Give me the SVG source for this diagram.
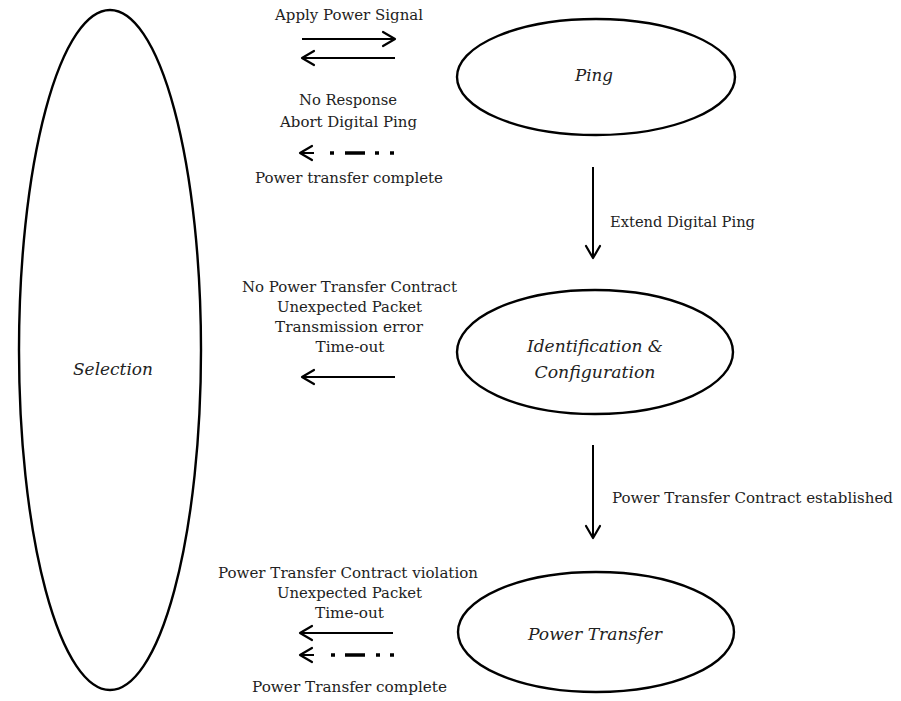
<svg xmlns="http://www.w3.org/2000/svg" width="901" height="701" viewBox="0 0 901 701">
<style>
.st{fill:none;stroke:#000;stroke-width:2.4}
.ln{fill:none;stroke:#000;stroke-width:2}
.hd{fill:none;stroke:#000;stroke-width:2.2;stroke-linecap:round;stroke-linejoin:round}
.dd{fill:none;stroke:#000;stroke-width:3.5}
.lb{font-family:"DejaVu Serif","Liberation Serif",serif;font-size:14px;fill:#222;text-anchor:middle}
.ls{font-family:"DejaVu Serif","Liberation Serif",serif;font-size:14px;fill:#222;text-anchor:start}
.nm{font-family:"DejaVu Serif","Liberation Serif",serif;font-size:16px;font-style:italic;fill:#222;text-anchor:middle}
</style>
<rect width="901" height="701" fill="#fff"/>
<g id="selection">
<ellipse class="st" cx="110" cy="350" rx="91" ry="340"/>
<text class="nm" x="113" y="375" textLength="80" lengthAdjust="spacingAndGlyphs">Selection</text>
</g>
<g id="ping">
<ellipse class="st" cx="596" cy="77" rx="139" ry="58"/>
<text class="nm" x="594" y="81" textLength="38" lengthAdjust="spacingAndGlyphs">Ping</text>
</g>
<g id="identification">
<ellipse class="st" cx="595" cy="352" rx="138" ry="62"/>
<text class="nm" x="595" y="352" textLength="136" lengthAdjust="spacingAndGlyphs">Identification &amp;</text>
<text class="nm" x="595" y="378" textLength="121" lengthAdjust="spacingAndGlyphs">Configuration</text>
</g>
<g id="power-transfer">
<ellipse class="st" cx="596" cy="632" rx="138" ry="60"/>
<text class="nm" x="595" y="640" textLength="134" lengthAdjust="spacingAndGlyphs">Power Transfer</text>
</g>
<g id="connectors">
<line class="ln" x1="302" y1="39" x2="394" y2="39"/>
<polyline class="hd" points="383,32 395,39 383,46"/>
<line class="ln" x1="303" y1="58" x2="395" y2="58"/>
<polyline class="hd" points="314,51 302,58 314,65"/>
<polyline class="hd" points="312,146 300,153 312,160"/>
<line class="ln" x1="301" y1="153" x2="314" y2="153"/>
<line class="dd" x1="330" y1="153" x2="334" y2="153"/>
<line class="dd" x1="345" y1="153" x2="365" y2="153"/>
<line class="dd" x1="375" y1="153" x2="379" y2="153"/>
<line class="dd" x1="390" y1="153" x2="394" y2="153"/>
<line class="ln" x1="593" y1="167" x2="593" y2="257"/>
<polyline class="hd" points="586,246 593,258 600,246"/>
<line class="ln" x1="303" y1="377" x2="395" y2="377"/>
<polyline class="hd" points="314,370 302,377 314,384"/>
<line class="ln" x1="593" y1="445" x2="593" y2="537"/>
<polyline class="hd" points="586,526 593,538 600,526"/>
<line class="ln" x1="301" y1="633" x2="393" y2="633"/>
<polyline class="hd" points="312,626 300,633 312,640"/>
<polyline class="hd" points="312,648 300,655 312,662"/>
<line class="ln" x1="301" y1="655" x2="314" y2="655"/>
<line class="dd" x1="331" y1="655" x2="335" y2="655"/>
<line class="dd" x1="345" y1="655" x2="365" y2="655"/>
<line class="dd" x1="376" y1="655" x2="380" y2="655"/>
<line class="dd" x1="390" y1="655" x2="394" y2="655"/>
</g>
<g id="labels">
<text class="lb" x="349" y="20" textLength="148" lengthAdjust="spacingAndGlyphs">Apply Power Signal</text>
<text class="lb" x="348" y="105" textLength="98" lengthAdjust="spacingAndGlyphs">No Response</text>
<text class="lb" x="348.5" y="127" textLength="137" lengthAdjust="spacingAndGlyphs">Abort Digital Ping</text>
<text class="lb" x="349" y="183" textLength="188" lengthAdjust="spacingAndGlyphs">Power transfer complete</text>
<text class="ls" x="610" y="227" textLength="145" lengthAdjust="spacingAndGlyphs">Extend Digital Ping</text>
<text class="lb" x="349.5" y="292" textLength="215" lengthAdjust="spacingAndGlyphs">No Power Transfer Contract</text>
<text class="lb" x="349.5" y="312" textLength="145" lengthAdjust="spacingAndGlyphs">Unexpected Packet</text>
<text class="lb" x="349" y="332" textLength="148" lengthAdjust="spacingAndGlyphs">Transmission error</text>
<text class="lb" x="350" y="352" textLength="69" lengthAdjust="spacingAndGlyphs">Time-out</text>
<text class="ls" x="612" y="503" textLength="281" lengthAdjust="spacingAndGlyphs">Power Transfer Contract established</text>
<text class="lb" x="348" y="578" textLength="260" lengthAdjust="spacingAndGlyphs">Power Transfer Contract violation</text>
<text class="lb" x="349.5" y="598" textLength="145" lengthAdjust="spacingAndGlyphs">Unexpected Packet</text>
<text class="lb" x="349.5" y="618" textLength="69" lengthAdjust="spacingAndGlyphs">Time-out</text>
<text class="lb" x="349.5" y="692" textLength="195" lengthAdjust="spacingAndGlyphs">Power Transfer complete</text>
</g>
</svg>
